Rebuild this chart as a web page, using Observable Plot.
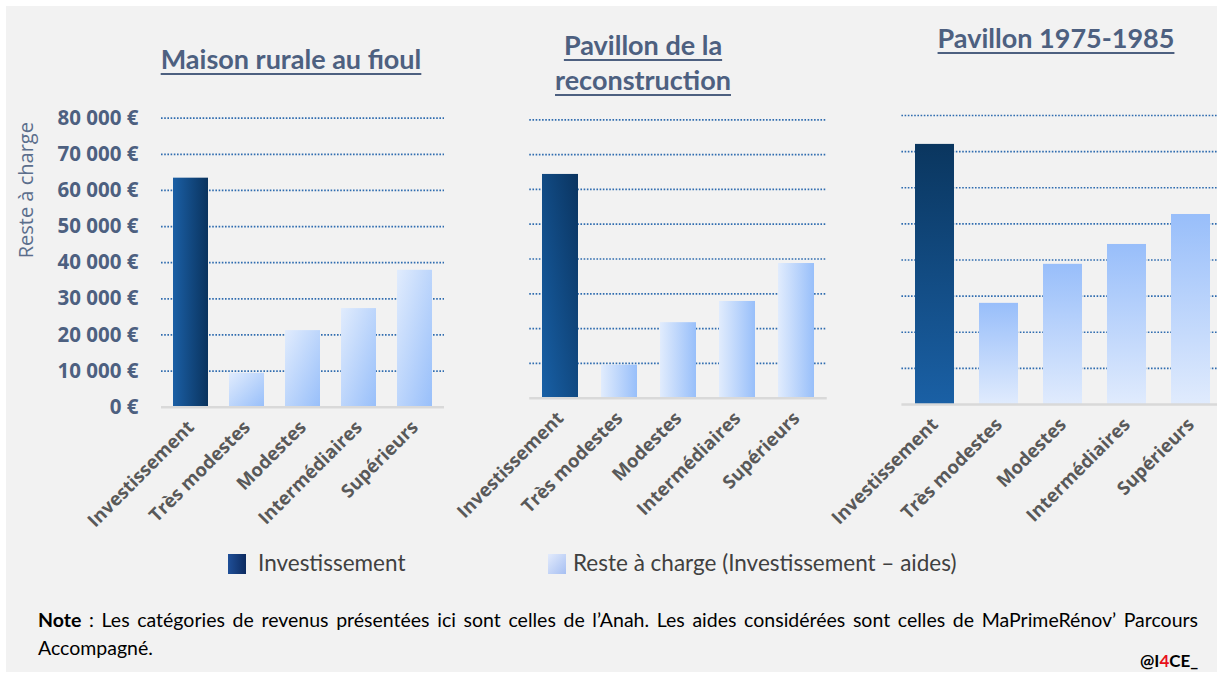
<!DOCTYPE html>
<html><head><meta charset="utf-8">
<script src="https://cdn.jsdelivr.net/npm/d3@7"></script>
<script src="https://cdn.jsdelivr.net/npm/@observablehq/plot@0.6"></script>
<style>
html,body{margin:0;padding:0;background:#fff;width:1217px;height:677px;overflow:hidden;position:relative;}
#frame{position:absolute;left:6px;top:6px;width:1211px;height:666px;background:#f2f2f2;}
.panel{position:absolute;top:0;}
.title{position:absolute;font-family:Lato,sans-serif;font-weight:bold;font-size:27px;color:#4d6080;text-decoration:underline;text-decoration-thickness:2px;text-underline-offset:4px;text-align:center;line-height:35px;white-space:nowrap;transform:translateX(-50%);}
.sw{position:absolute;width:18px;height:20px;}
.lt{position:absolute;font-family:Lato,sans-serif;font-size:22.5px;color:#404040;line-height:24px;white-space:nowrap;}
#note{position:absolute;left:38px;top:606px;width:1160px;font-family:Lato,sans-serif;font-size:19.5px;line-height:28px;color:#000;}
#note .l1{text-align:justify;text-align-last:justify;}
#brand{position:absolute;left:1140px;top:650px;font-family:Lato,sans-serif;font-weight:bold;font-size:17px;color:#000;}
</style></head>
<body>
<div id="frame"></div>
<div id="root"></div>
<script>
// ---- data ----
const categories = ["Investissement", "Très modestes", "Modestes", "Intermédiaires", "Supérieurs"];
const panelTitles = [["Maison rurale au fioul"], ["Pavillon de la", "reconstruction"], ["Pavillon 1975-1985"]];
const maisonRurale = [63400, 9400, 21200, 27300, 37900];
const pavillonReconstruction = [64300, 9500, 21700, 27800, 38700];
const pavillon1975 = [72000, 28000, 38800, 44300, 52600];
const yTicks = [0, 10000, 20000, 30000, 40000, 50000, 60000, 70000, 80000];
const yTitle = "Reste à charge";
const legendLabels = ["Investissement", "Reste à charge (Investissement – aides)"];
const noteLine1 = "Les catégories de revenus présentées ici sont celles de l’Anah. Les aides considérées sont celles de MaPrimeRénov’ Parcours";
const noteLine2 = "Accompagné.";

const fmtY = d => d3.format(",")(d).replace(/,/g, "\u00a0") + "\u00a0€";
const root = document.getElementById("root");

function addGrad(defs, id, x1, y1, x2, y2, c1, c2) {
  const g = defs.append("linearGradient").attr("id", id)
    .attr("x1", x1).attr("y1", y1).attr("x2", x2).attr("y2", y2);
  g.append("stop").attr("offset", "0%").attr("stop-color", c1);
  g.append("stop").attr("offset", "100%").attr("stop-color", c2);
}

function makePanel(cfg) {
  const rows = categories.map((c, i) => ({cat: c, value: cfg.values[i]}));
  const H = 560;
  const marks = [
    Plot.ruleY(yTicks.filter(d => d > 0), {stroke: "#2f6caf", strokeWidth: 1.7, strokeDasharray: "1.6,1.6"}),
    Plot.barY(rows.filter(d => d.cat === categories[0]), {x: "cat", y: "value", fill: `url(#${cfg.id}inv)`}),
    Plot.barY(rows.filter(d => d.cat !== categories[0]), {x: "cat", y: "value", fill: `url(#${cfg.id}rest)`}),
    Plot.ruleY([0], {stroke: "#d9d9d9", strokeWidth: 2.5}),
    Plot.axisX({tickRotate: -45, tickSize: 0, tickPadding: 17, fontSize: 18.5, fontWeight: "bold", color: "#595959", label: null})
  ];
  if (cfg.showY) {
    marks.push(Plot.axisY({ticks: yTicks, tickSize: 0, tickPadding: 23, tickFormat: fmtY, fontSize: 20.5, fontWeight: "bold", color: "#4d6080", label: null}));
    marks.push(Plot.text([yTitle], {frameAnchor: "top-left", dx: -135, dy: 72, rotate: -90, textAnchor: "middle", lineAnchor: "middle", fontSize: 20, fill: "#5b6e8c"}));
  }
  const plot = Plot.plot({
    width: cfg.width, height: H,
    marginLeft: cfg.x0 - cfg.left, marginRight: cfg.left + cfg.width - cfg.x1,
    marginTop: cfg.yTop, marginBottom: H - cfg.yBase,
    style: {background: "transparent", fontFamily: "Open Sans, sans-serif", overflow: cfg.clip ? "hidden" : "visible", maxWidth: "none"},
    x: {domain: categories, paddingInner: cfg.pad, paddingOuter: cfg.pad / 2, axis: null},
    y: {domain: [0, 80000], axis: null},
    marks
  });
  const defs = d3.select(plot).insert("defs", ":first-child");
  addGrad(defs, cfg.id + "inv", ...cfg.gInv);
  addGrad(defs, cfg.id + "rest", ...cfg.gRest);
  const div = document.createElement("div");
  div.className = "panel";
  div.style.left = cfg.left + "px";
  div.appendChild(plot);
  root.appendChild(div);

  const t = document.createElement("div");
  t.className = "title";
  t.style.left = cfg.titleX + "px";
  t.style.top = cfg.titleY + "px";
  t.innerHTML = cfg.title.map(s => `<span>${s}</span>`).join("<br>");
  root.appendChild(t);
}

makePanel({id: "p1", values: maisonRurale, title: panelTitles[0], left: 0, width: 460, x0: 161, x1: 444, yTop: 117.7, yBase: 406.7, pad: 0.38, showY: true,
  gInv: ["0", "0", "1", "0", "#1b5fa5", "#0a335e"], gRest: ["0", "0", "1", "1", "#e1ecfd", "#98bffa"], titleX: 291, titleY: 41});
makePanel({id: "p2", values: pavillonReconstruction, title: panelTitles[1], left: 440, width: 400, x0: 529.25, x1: 826.75, yTop: 119.3, yBase: 397.7, pad: 0.395, showY: false,
  gInv: ["0", "1", "1", "0", "#1860a6", "#0a3460"], gRest: ["0", "0", "1", "0", "#e1ecfd", "#98bffa"], titleX: 643, titleY: 27});
makePanel({id: "p3", values: pavillon1975, title: panelTitles[2], left: 818, width: 420, x0: 901.4, x1: 1222.6, yTop: 115, yBase: 404, pad: 0.393, showY: false, clip: true,
  gInv: ["0", "1", "0", "0", "#1a60a5", "#0a365f"], gRest: ["0", "0", "0", "1", "#98befa", "#e0ebfd"], titleX: 1056, titleY: 20});

// legend
const leg = [
  {x: 228, tx: 258, bg: "linear-gradient(to right, #1f4f98, #0d2b60)"},
  {x: 548, tx: 573, bg: "linear-gradient(to right bottom, #e3ebfc, #a6bff2)"}
];
leg.forEach((l, i) => {
  const s = document.createElement("div");
  s.className = "sw"; s.style.left = l.x + "px"; s.style.top = "554px"; s.style.background = l.bg;
  root.appendChild(s);
  const t = document.createElement("div");
  t.className = "lt"; t.style.left = l.tx + "px"; t.style.top = "551px"; t.textContent = legendLabels[i];
  root.appendChild(t);
});

const note = document.createElement("div");
note.id = "note";
note.innerHTML = `<div class="l1"><b>Note</b> : ${noteLine1}</div><div>${noteLine2}</div>`;
root.appendChild(note);
const brand = document.createElement("div");
brand.id = "brand";
brand.innerHTML = `@I<span style="color:#e8101a">4</span>CE_`;
root.appendChild(brand);
</script>
</body></html>
